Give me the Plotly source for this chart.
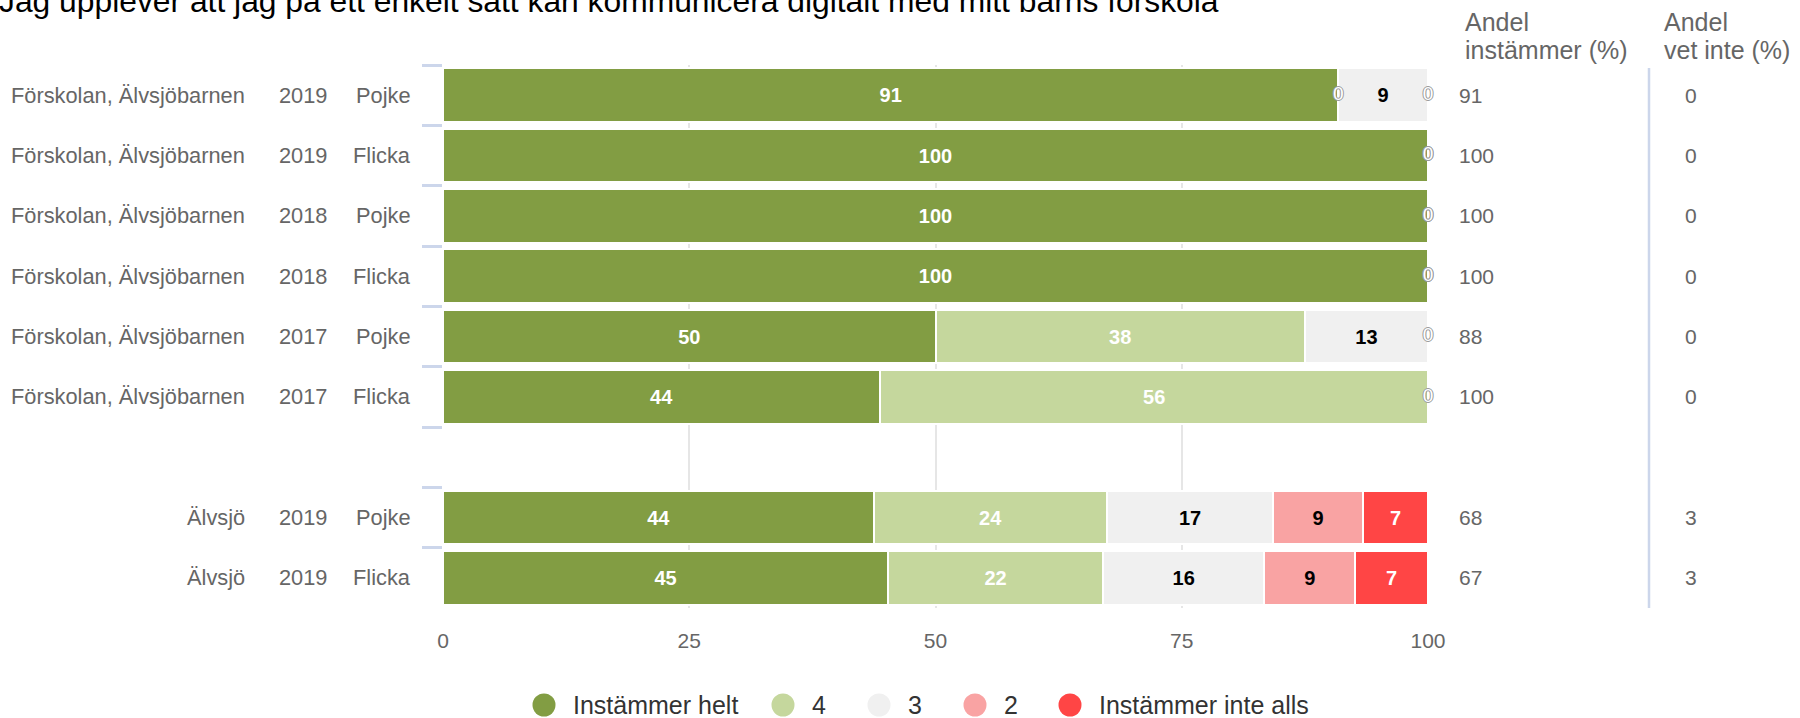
import math
import plotly.graph_objects as go

# ---------------- data ----------------
row_ids = ["r0", "r1", "r2", "r3", "r4", "r5", "r6", "r7", "r8"]
units = ["Förskolan, Älvsjöbarnen"] * 6 + [""] + ["Älvsjö", "Älvsjö"]
years = ["2019", "2019", "2018", "2018", "2017", "2017", "", "2019", "2019"]
genders = ["Pojke", "Flicka", "Pojke", "Flicka", "Pojke", "Flicka", "", "Pojke", "Flicka"]

series_names = ["Instämmer helt", "4", "3", "2", "Instämmer inte alls"]
v_helt = [90.9, 100, 100, 100, 50, 44.4, None, 43.8, 45.2]
v_4 = [0, 0, 0, 0, 37.5, 55.6, None, 23.6, 21.8]
v_3 = [9.1, 0, 0, 0, 12.5, 0, None, 16.9, 16.4]
v_2 = [0, 0, 0, 0, 0, 0, None, 9.1, 9.2]
v_1 = [0, 0, 0, 0, 0, 0, None, 6.6, 7.4]
series_values = [v_helt, v_4, v_3, v_2, v_1]

andel_instammer = [91, 100, 100, 100, 88, 100, None, 68, 67]
andel_vet_inte = [0, 0, 0, 0, 0, 0, None, 3, 3]

x_ticks = [0, 25, 50, 75, 100]
title_text = "Jag upplever att jag på ett enkelt sätt kan kommunicera digitalt med mitt barns förskola"
header_instammer = ["Andel", "instämmer (%)"]
header_vet_inte = ["Andel", "vet inte (%)"]

# ---------------- styles ----------------
colors = ["#829d43", "#c5d79d", "#f0f0f0", "#f9a3a3", "#ff4545"]
label_colors = ["#ffffff", "#ffffff", "#000000", "#000000", "#ffffff"]
FONT = "Liberation Sans, Arial, sans-serif"
GREY = "#666666"

W, H = 1800, 718
L, R, T, B = 443, 1428, 65, 608


def px(x):
    return (x - L) / (R - L)


def py(y):
    return (B - y) / (B - T)


def half_up(v):
    return str(int(math.floor(v + 0.5)))


fig = go.Figure()

# stacked bars
for name, vals, col, lcol in zip(series_names, series_values, colors, label_colors):
    texts = ["" if (v is None or v == 0) else half_up(v) for v in vals]
    fig.add_trace(go.Bar(
        name=name, y=row_ids, x=vals, orientation="h",
        marker=dict(color=col, line=dict(color="#ffffff", width=2)),
        text=texts, textposition="inside", insidetextanchor="middle",
        textangle=0, constraintext="none", cliponaxis=False,
        textfont=dict(family=FONT, size=20, color=lcol, weight="bold"),
        hoverinfo="skip", showlegend=False,
    ))

# zero-value labels placed at their stack position
for si, (vals, lcol) in enumerate(zip(series_values, label_colors)):
    zx, zy = [], []
    for ri, v in enumerate(vals):
        if v is not None and v == 0:
            base = sum(series_values[k][ri] for k in range(si))
            zx.append(base)
            zy.append(row_ids[ri])
    if zx:
        fig.add_trace(go.Scatter(
            x=zx, y=zy, mode="text", text=["0"] * len(zx),
            textposition="middle center",
            textfont=dict(family=FONT, size=19, color=lcol,
                          shadow="-1px 0 0 #9a9a9a, 1px 0 0 #9a9a9a, 0 -1px 0 #9a9a9a, 0 1px 0 #9a9a9a" if lcol == "#ffffff" else "none"),
            hoverinfo="skip", showlegend=False, cliponaxis=False,
        ))

annotations = []
LBL = 21.8
# left label columns
for rid, u, yv, g in zip(row_ids, units, years, genders):
    if u:
        annotations.append(dict(x=px(247), y=rid, xref="paper", yref="y", text=u, xanchor="right",
                                showarrow=False, font=dict(family=FONT, size=LBL, color=GREY)))
        annotations.append(dict(x=px(303), y=rid, xref="paper", yref="y", text=yv, xanchor="center",
                                showarrow=False, font=dict(family=FONT, size=LBL, color=GREY)))
        annotations.append(dict(x=px(413), y=rid, xref="paper", yref="y", text=g, xanchor="right",
                                showarrow=False, font=dict(family=FONT, size=LBL, color=GREY)))

# right columns
for rid, a, v in zip(row_ids, andel_instammer, andel_vet_inte):
    if a is not None:
        annotations.append(dict(x=px(1457), y=rid, xref="paper", yref="y", text=str(a), xanchor="left",
                                showarrow=False, font=dict(family=FONT, size=21, color=GREY)))
    if v is not None:
        annotations.append(dict(x=px(1683), y=rid, xref="paper", yref="y", text=str(v), xanchor="left",
                                showarrow=False, font=dict(family=FONT, size=21, color=GREY)))

for i, (h1, h2) in enumerate(zip(header_instammer, header_vet_inte)):
    yy = [22, 50][i]
    annotations.append(dict(x=px(1463), y=py(yy), xref="paper", yref="paper", text=h1, xanchor="left",
                            yanchor="middle", showarrow=False, font=dict(family=FONT, size=25, color=GREY)))
    annotations.append(dict(x=px(1662), y=py(yy), xref="paper", yref="paper", text=h2, xanchor="left",
                            yanchor="middle", showarrow=False, font=dict(family=FONT, size=25, color=GREY)))

# title (partly cut at the top, as in the reference)
annotations.append(dict(x=px(-3), y=py(1), xref="paper", yref="paper", text=title_text, xanchor="left",
                        yanchor="middle", showarrow=False, font=dict(family=FONT, size=31.8, color="#000000")))

shapes = [dict(type="line", xref="paper", yref="paper", x0=px(1649), x1=px(1649), y0=py(68), y1=py(608),
               line=dict(color="#ccd6eb", width=2.5))]

# legend drawn with circles + labels
leg_cx = [544, 783, 879, 975, 1070]
leg_cy = 705
for name, col, cx in zip(series_names, colors, leg_cx):
    shapes.append(dict(type="circle", xref="paper", yref="paper", xsizemode="pixel", ysizemode="pixel",
                       xanchor=px(cx), yanchor=py(leg_cy), x0=-11.5, x1=11.5, y0=-11.5, y1=11.5,
                       fillcolor=col, line=dict(width=0)))
    annotations.append(dict(x=px(cx + 27), y=py(leg_cy), xref="paper", yref="paper", text=name,
                            xanchor="left", yanchor="middle", showarrow=False,
                            font=dict(family=FONT, size=25, color="#333333")))

fig.update_layout(
    width=W, height=H,
    margin=dict(l=L, r=W - R, t=T, b=H - B, pad=0),
    barmode="stack", bargap=0.11,
    plot_bgcolor="#ffffff", paper_bgcolor="#ffffff",
    showlegend=False,
    font=dict(family=FONT, color=GREY),
    annotations=annotations, shapes=shapes,
    xaxis=dict(range=[0, 100.0001], tickvals=x_ticks, ticktext=[str(t) for t in x_ticks],
               showgrid=True, gridcolor="#e6e6e6", gridwidth=1.5, zeroline=False,
               showline=False, ticks="", ticklabelstandoff=18,
               tickfont=dict(family=FONT, size=21, color=GREY), fixedrange=True),
    yaxis=dict(type="category", categoryorder="array", categoryarray=row_ids,
               range=[8.5, -0.5], showticklabels=False, showgrid=False, zeroline=False,
               showline=False, ticks="outside", tickson="boundaries", ticklen=20,
               tickwidth=3, tickcolor="#ccd6eb", fixedrange=True),
)

fig.write_html("out.html", config={"displayModeBar": False},
               post_script="document.body.style.margin='0';")
